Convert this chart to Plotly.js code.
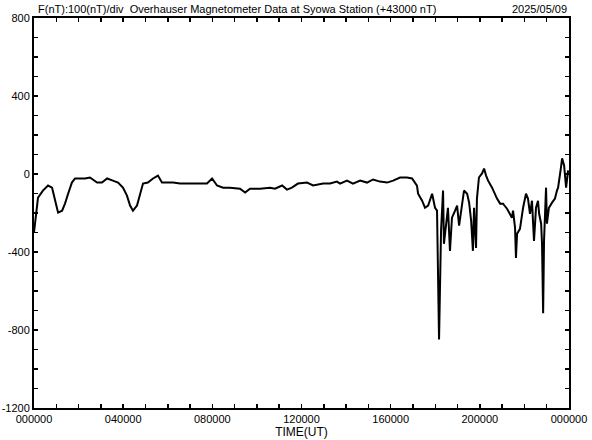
<!DOCTYPE html>
<html>
<head>
<meta charset="utf-8">
<script src="https://cdn.plot.ly/plotly-3.0.1.min.js"></script>
<style>html,body{margin:0;padding:0;background:#fff;}#chart{width:592px;height:440px;}</style>
</head>
<body>
<div id="chart"></div>
<script>
// Time in hours (UT) and F deviation in nT (+43000 nT)
const timeHours = [0, 0.045, 0.18, 0.40, 0.63, 0.81, 0.94, 1.08, 1.26, 1.39, 1.53, 1.70, 1.84, 2.06, 2.29, 2.51, 2.83, 3.05, 3.28, 3.54, 3.77, 3.99, 4.17, 4.31, 4.44, 4.62, 4.76, 4.89, 5.11, 5.34, 5.56, 5.74, 5.97, 6.24, 6.55, 6.86, 7.13, 7.45, 7.76, 7.99, 8.21, 8.48, 8.79, 9.24, 9.47, 9.69, 10.14, 10.59, 10.81, 11.13, 11.35, 11.57, 11.84, 12.25, 12.52, 12.97, 13.28, 13.59, 13.73, 14.04, 14.31, 14.63, 14.94, 15.21, 15.52, 15.84, 16.11, 16.42, 16.73, 16.96, 17.09, 17.18, 17.23, 17.41, 17.54, 17.68, 17.86, 17.90, 17.99, 18.08, 18.17, 18.26, 18.35, 18.39, 18.48, 18.57, 18.66, 18.75, 18.89, 18.98, 19.07, 19.20, 19.29, 19.43, 19.52, 19.61, 19.69, 19.74, 19.83, 19.87, 19.96, 20.10, 20.19, 20.28, 20.37, 20.55, 20.77, 20.91, 21.04, 21.22, 21.35, 21.44, 21.49, 21.58, 21.62, 21.67, 21.80, 21.94, 22.07, 22.16, 22.25, 22.34, 22.39, 22.43, 22.52, 22.61, 22.66, 22.75, 22.79, 22.84, 22.88, 22.97, 23.01, 23.10, 23.24, 23.37, 23.46, 23.51, 23.64, 23.69, 23.78, 23.87, 23.96];
const fValues = [-300, -250, -121, -85, -59, -70, -137, -198, -188, -152, -101, -44, -23, -23, -23, -18, -44, -44, -23, -34, -44, -70, -111, -162, -188, -162, -95, -49, -44, -23, -8, -44, -44, -44, -49, -49, -49, -49, -49, -23, -59, -70, -70, -75, -95, -75, -75, -70, -75, -59, -80, -70, -49, -44, -59, -49, -49, -39, -49, -34, -49, -34, -44, -28, -39, -44, -34, -18, -18, -23, -49, -60, -101, -137, -173, -162, -101, -126, -173, -188, -848, -291, -85, -358, -255, -173, -394, -224, -188, -162, -265, -152, -85, -101, -147, -240, -394, -173, -379, -126, -18, 3, 28, -8, -34, -70, -126, -152, -152, -178, -204, -224, -188, -276, -430, -307, -281, -173, -101, -126, -204, -137, -255, -343, -173, -137, -204, -255, -358, -714, -343, -70, -255, -173, -147, -126, -85, -70, 34, 80, 44, -70, 18];
const xTickVals = [0, 4, 8, 12, 16, 20, 24];
const xTickText = ["000000", "040000", "080000", "120000", "160000", "200000", "000000"];
const yTickVals = [800, 400, 0, -400, -800, -1200];
const yTickText = ["800", "400", "0", "-400", "-800", "-1200"];
const titleText = "F(nT):100(nT)/div  Overhauser Magnetometer Data at Syowa Station (+43000 nT)";
const dateText = "2025/05/09";

const font = {family: "Liberation Sans, Arial, sans-serif", size: 11, color: "#000"};

const trace = {
  x: timeHours, y: fValues, type: "scatter", mode: "lines",
  line: {color: "#000", width: 2}, hoverinfo: "skip"
};

const layout = {
  width: 592, height: 440,
  margin: {l: 34, r: 23, t: 18, b: 32, pad: 0},
  paper_bgcolor: "#fff", plot_bgcolor: "#fff",
  showlegend: false,
  font: font,
  xaxis: {
    range: [0, 24], showgrid: false, zeroline: false,
    showline: true, linecolor: "#000", linewidth: 2, mirror: "ticks",
    tickmode: "array", tickvals: xTickVals, ticktext: xTickText,
    ticks: "inside", ticklen: 4, tickwidth: 1.5, tickcolor: "#000",
    minor: {tickmode: "linear", tick0: 0, dtick: 1, ticks: "inside", ticklen: 4, tickwidth: 1.5, tickcolor: "#000", showgrid: false},
    tickfont: font,
    title: {text: "TIME(UT)", font: {family: font.family, size: 12, color: "#000"}, standoff: 2}
  },
  yaxis: {
    range: [-1200, 800], showgrid: false, zeroline: false,
    showline: true, linecolor: "#000", linewidth: 2, mirror: "ticks",
    tickmode: "array", tickvals: yTickVals, ticktext: yTickText,
    ticks: "inside", ticklen: 4, tickwidth: 1.5, tickcolor: "#000",
    minor: {tickmode: "linear", tick0: 0, dtick: 100, ticks: "inside", ticklen: 4, tickwidth: 1.5, tickcolor: "#000", showgrid: false},
    tickfont: font
  },
  annotations: [
    {xref: "paper", yref: "paper", x: 0, y: 1, xanchor: "left", yanchor: "bottom", xshift: 2, yshift: 1, text: titleText, showarrow: false, font: font},
    {xref: "paper", yref: "paper", x: 1, y: 1, xanchor: "right", yanchor: "bottom", xshift: 0, yshift: 1, text: dateText, showarrow: false, font: font}
  ]
};

Plotly.newPlot("chart", [trace], layout, {displayModeBar: false, staticPlot: true});
</script>
</body>
</html>
